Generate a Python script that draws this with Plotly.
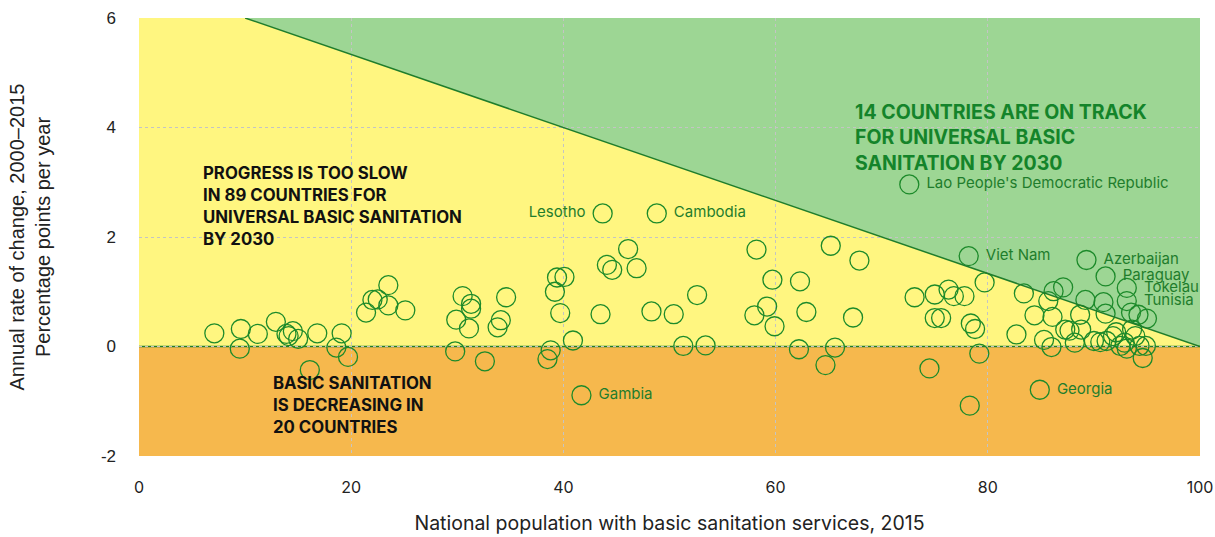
import plotly.graph_objects as go

# Countries without a label
coverage = [
    7.1, 9.6, 9.5, 11.2, 12.9, 13.9, 14.5, 14.1, 15.0, 16.8, 16.1, 19.1, 18.6, 19.7,
    21.4, 22.0, 22.5, 23.5, 23.5, 25.1,
    30.5, 31.3, 31.3, 29.9, 31.1, 34.6, 34.1, 33.8, 29.8, 32.6,
    39.4, 40.1, 39.2, 39.7, 38.8, 38.5, 40.9, 43.5, 46.1, 44.1, 44.6, 46.9,
    48.3, 50.4, 52.6, 51.3, 53.4,
    58.2, 65.2, 67.9, 59.7, 62.3, 59.2, 58.0, 59.9, 62.9, 67.3, 62.2, 65.6, 64.7,
    73.1, 75.0, 75.0, 74.5,
    78.3, 79.7, 76.3, 76.8, 77.8, 75.6, 78.4, 78.8, 79.2, 82.7, 83.4, 84.4, 85.3,
    86.0, 86.2, 87.1, 85.7, 86.1, 88.7, 87.3, 87.7, 88.8, 88.2, 89.2, 90.9, 91.1,
    90.0, 90.6, 91.2, 91.8, 92.1, 92.9, 93.1, 93.6, 93.5, 94.2, 95.0, 94.3, 94.9,
    94.6, 93.9, 92.5,
]
rate = [
    0.24, 0.32, -0.04, 0.23, 0.45, 0.23, 0.28, 0.19, 0.14, 0.24, -0.43, 0.24, -0.02, -0.19,
    0.62, 0.85, 0.86, 1.12, 0.75, 0.66,
    0.92, 0.78, 0.69, 0.49, 0.33, 0.90, 0.48, 0.35, -0.09, -0.27,
    1.26, 1.27, 1.00, 0.61, -0.07, -0.23, 0.11, 0.59, 1.78, 1.49, 1.40, 1.43,
    0.64, 0.59, 0.94, 0.01, 0.02,
    1.77, 1.84, 1.57, 1.22, 1.19, 0.73, 0.57, 0.37, 0.63, 0.53, -0.05, -0.02, -0.34,
    0.90, 0.95, 0.52, -0.40,
    -1.08, 1.17, 1.04, 0.92, 0.92, 0.52, 0.42, 0.32, -0.13, 0.22, 0.97, 0.57, 0.12,
    -0.01, 1.01, 1.08, 0.83, 0.54, 0.58, 0.31, 0.29, 0.31, 0.07, 0.85, 0.81, 0.60,
    0.10, 0.08, 0.10, 0.19, 0.26, 0.07, -0.04, 0.31, 0.62, 0.58, 0.51, 0.01, 0.01,
    -0.21, 0.19, 0.01,
]

# Labelled countries
left_names = ["Lesotho"]
left_x = [43.7]
left_y = [2.43]

right_names = ["Cambodia", "Gambia", "Lao People's Democratic Republic", "Viet Nam",
               "Azerbaijan", "Paraguay", "Tokelau", "Tunisia", "Georgia"]
right_x = [48.8, 41.7, 72.6, 78.2, 89.3, 91.1, 93.1, 93.1, 84.9]
right_y = [2.43, -0.89, 2.96, 1.65, 1.58, 1.28, 1.07, 0.83, -0.79]

# Target line: rate needed to reach 100% by 2030
target_x = [10, 100]
target_y = [6, 0]

X_RANGE = [0, 100]
Y_RANGE = [-2, 6]
X_TICKS = [0, 20, 40, 60, 80, 100]
Y_TICKS = [-2, 0, 2, 4, 6]
Y_TICK_TEXT = ["-2", "0", "2", "4", "6"]

GREEN_LINE = "#1f7d2c"
MARKER_LINE = "#1c8a2a"
YELLOW = "#fff680"
GREEN = "#9dd694"
ORANGE = "#f6b84d"
LABEL_FONT = "Inter, sans-serif"
ARIAL = "Liberation Sans, Arial, sans-serif"

marker_style = {
    "size": 19,
    "color": "rgba(0,0,0,0)",
    "line": {"color": MARKER_LINE, "width": 1.3},
}
label_font = {"family": LABEL_FONT, "size": 15, "color": GREEN_LINE}

fig = go.Figure()
fig.add_trace(go.Scatter(x=coverage, y=rate, mode="markers", marker=marker_style,
                         showlegend=False, hoverinfo="x+y"))
fig.add_trace(go.Scatter(x=left_x, y=left_y, mode="markers+text",
                         text=[n + " " for n in left_names], textposition="middle left",
                         textfont=label_font, marker=marker_style, showlegend=False))
fig.add_trace(go.Scatter(x=right_x, y=right_y, mode="markers+text",
                         text=[" " + n for n in right_names], textposition="middle right",
                         textfont=label_font, marker=marker_style, showlegend=False))

# Background zones
fig.add_shape(type="rect", x0=X_RANGE[0], x1=X_RANGE[1], y0=Y_RANGE[0], y1=0,
              fillcolor=ORANGE, line_width=0, layer="below")
fig.add_shape(type="rect", x0=X_RANGE[0], x1=X_RANGE[1], y0=0, y1=Y_RANGE[1],
              fillcolor=YELLOW, line_width=0, layer="below")
fig.add_shape(type="path",
              path=f"M {target_x[0]},{target_y[0]} L {target_x[1]},{target_y[1]} "
                   f"L {X_RANGE[1]},{Y_RANGE[1]} Z",
              fillcolor=GREEN, line_width=0, layer="below")
fig.add_shape(type="line", x0=target_x[0], y0=target_y[0], x1=target_x[1], y1=target_y[1],
              line={"color": GREEN_LINE, "width": 1.5})
fig.add_shape(type="line", x0=X_RANGE[0], y0=0, x1=X_RANGE[1], y1=0,
              line={"color": GREEN_LINE, "width": 1.5}, layer="below")

fig.add_annotation(x=0.673, y=0.818, xref="paper", yref="paper", xanchor="left", yanchor="top",
                   align="left", showarrow=False,
                   text="<b>14 COUNTRIES ARE ON TRACK<br>FOR UNIVERSAL BASIC<br>SANITATION BY 2030</b>",
                   font={"family": LABEL_FONT, "size": 19.5, "color": "#14842a"})
fig.add_annotation(x=0.058, y=0.674, xref="paper", yref="paper", xanchor="left", yanchor="top",
                   align="left", showarrow=False,
                   text="<b>PROGRESS IS TOO SLOW<br>IN 89 COUNTRIES FOR<br>UNIVERSAL BASIC SANITATION<br>BY 2030</b>",
                   font={"family": LABEL_FONT, "size": 16.8, "color": "#111111"})
fig.add_annotation(x=0.124, y=0.194, xref="paper", yref="paper", xanchor="left", yanchor="top",
                   align="left", showarrow=False,
                   text="<b>BASIC SANITATION<br>IS DECREASING IN<br>20 COUNTRIES</b>",
                   font={"family": LABEL_FONT, "size": 16.8, "color": "#111111"})

fig.update_layout(
    width=1215,
    height=537,
    margin={"l": 139, "r": 15, "t": 18, "b": 81},
    paper_bgcolor="white",
    plot_bgcolor="rgba(0,0,0,0)",
    showlegend=False,
)
fig.update_xaxes(
    range=X_RANGE, tickvals=X_TICKS, showgrid=True, automargin=False,
    gridcolor="#c4c4c4", griddash="dot", gridwidth=1, zeroline=False,
    ticklabelstandoff=20, tickfont={"family": LABEL_FONT, "size": 16, "color": "#222222"},
    title={"text": "National population with basic sanitation services, 2015",
           "font": {"family": LABEL_FONT, "size": 19.5, "color": "#222222"}, "standoff": 20},
)
fig.update_yaxes(
    range=Y_RANGE, tickvals=Y_TICKS, ticktext=Y_TICK_TEXT, showgrid=True, automargin=False,
    gridcolor="#c4c4c4", griddash="dot", gridwidth=1, zeroline=False,
    ticklabelstandoff=22, tickfont={"family": ARIAL, "size": 17, "color": "#222222"},
    title={"text": "Annual rate of change, 2000\u20132015<br>Percentage points per year",
           "font": {"family": ARIAL, "size": 20, "color": "#222222"}, "standoff": 44},
)

# drop the default page margin so the figure sits at the window origin
fig.write_html("out.html", config={"displayModeBar": False},
               post_script="document.body.style.margin='0';")
